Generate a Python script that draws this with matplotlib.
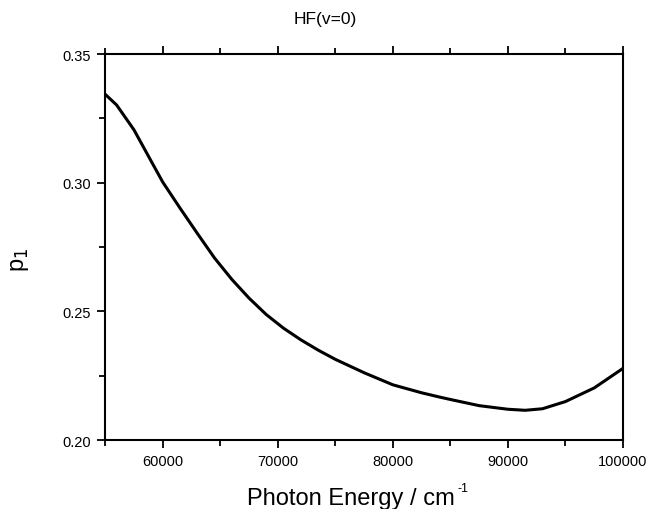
import numpy as np
import matplotlib as mpl
mpl.use('Agg')
import matplotlib.pyplot as plt
from matplotlib.ticker import MultipleLocator, FormatStrFormatter

plt.rcParams['font.family'] = ['Liberation Sans', 'DejaVu Sans']

# photon energy (cm^-1) and p1
energy = [55000, 56000, 57500, 59000, 60000, 61500, 63000, 64500, 66000,
          67500, 69000, 70500, 72000, 73500, 75000, 77500, 80000, 82500,
          84000, 85000, 87500, 90000, 91500, 93000, 95000, 97500, 100000]
p1 = [0.3344, 0.3302, 0.3206, 0.3084, 0.3003, 0.2902, 0.2804, 0.2708, 0.2625,
      0.2552, 0.2488, 0.2435, 0.2390, 0.2350, 0.2314, 0.2262, 0.2215, 0.2184,
      0.2168, 0.2158, 0.2134, 0.2120, 0.2116, 0.2122, 0.2150, 0.2203, 0.2279]

fig = plt.figure(figsize=(6.49, 5.10), dpi=100)
ax = fig.add_axes([0.162, 0.135, 0.798, 0.757])
ax.plot(energy, p1, color='black', lw=2.2, solid_capstyle='round',
        solid_joinstyle='round')

ax.set_xlim(55000, 100000)
ax.set_ylim(0.20, 0.35)
ax.xaxis.set_major_locator(MultipleLocator(10000))
ax.xaxis.set_minor_locator(MultipleLocator(5000))
ax.yaxis.set_major_locator(MultipleLocator(0.05))
ax.yaxis.set_minor_locator(MultipleLocator(0.025))
ax.yaxis.set_major_formatter(FormatStrFormatter('%.2f'))
ax.tick_params(which='both', direction='out', top=True, right=False,
               width=1.3, labelsize=10.5)
ax.tick_params(which='major', length=6, pad=4)
ax.tick_params(which='minor', length=4)
for s in ax.spines.values():
    s.set_linewidth(1.5)

# title and axis labels placed in figure coordinates
fig.text(0.501, 0.961, 'HF(v=0)', fontsize=12.5, ha='center', va='center')
fig.text(0.541, 0.010, 'Photon Energy / cm', fontsize=17, ha='center',
         va='baseline')
fig.text(0.705, 0.053, '-1', fontsize=9, ha='left', va='top')
fig.text(0.031, 0.49, 'p$_1$', fontsize=17, rotation=90, ha='center',
         va='center')

plt.savefig('out.png', dpi=100)
